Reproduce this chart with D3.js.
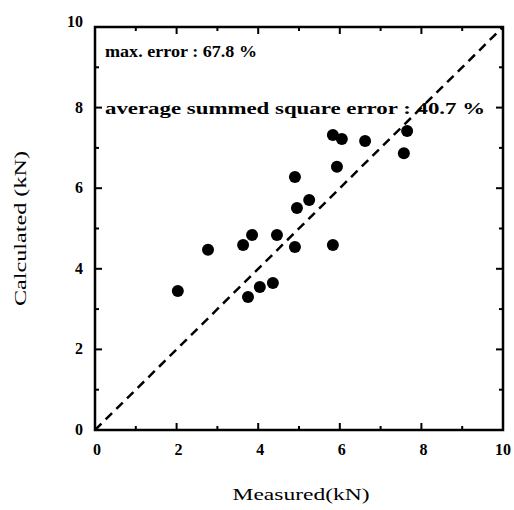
<!DOCTYPE html>
<html>
<head>
<meta charset="utf-8">
<script src="https://cdn.jsdelivr.net/npm/d3@7"></script>
<style>
  body { margin: 0; background: #fff; }
  svg text { font-family: 'Liberation Serif', 'DejaVu Serif', serif; fill: #000; }
</style>
</head>
<body>
<svg class="scatter" width="514" height="510"></svg>
<script>
// measured vs calculated load (kN)
const measured   = [2.03, 2.77, 3.63, 3.85, 3.75, 4.04, 4.36, 4.46, 4.90, 4.90, 4.95, 5.25, 5.83, 5.83, 6.05, 5.93, 6.62, 7.57, 7.65];
const calculated = [3.45, 4.47, 4.59, 4.84, 3.30, 3.55, 3.65, 4.84, 4.54, 6.28, 5.51, 5.71, 4.59, 7.32, 7.22, 6.53, 7.17, 6.87, 7.42];
const majorTicks = [0, 2, 4, 6, 8, 10];
const minorTicks = [1, 3, 5, 7, 9];
const notes = ['max. error : 67.8 %', 'average summed square error : 40.7 %'];

function drawScatter(){
  const margin = {top: 27, right: 11, bottom: 80, left: 95},
        width = 514 - margin.left - margin.right,
        height = 510 - margin.top - margin.bottom;

  const x = d3.scaleLinear().domain([0, 10]).range([0, width]);
  const y = d3.scaleLinear().domain([0, 10]).range([height, 0]);

  const svg = d3.select('svg.scatter').append('g')
                .attr('transform', `translate(${margin.left}, ${margin.top})`);

  // inward ticks on all four sides
  const tickLen = d => majorTicks.includes(d) ? 7 : 4;
  const allTicks = majorTicks.concat(minorTicks).filter(d => d > 0 && d < 10);

  svg.append('g').selectAll('line').data(allTicks).enter().append('line')
     .attr('x1', d => x(d)).attr('x2', d => x(d))
     .attr('y1', height).attr('y2', d => height - tickLen(d));
  svg.append('g').selectAll('line').data(allTicks).enter().append('line')
     .attr('x1', d => x(d)).attr('x2', d => x(d))
     .attr('y1', 0).attr('y2', d => tickLen(d));
  svg.append('g').selectAll('line').data(allTicks).enter().append('line')
     .attr('y1', d => y(d)).attr('y2', d => y(d))
     .attr('x1', 0).attr('x2', d => tickLen(d));
  svg.append('g').selectAll('line').data(allTicks).enter().append('line')
     .attr('y1', d => y(d)).attr('y2', d => y(d))
     .attr('x1', width).attr('x2', d => width - tickLen(d));
  svg.selectAll('line').attr('stroke', '#000').attr('stroke-width', 2);

  // frame
  svg.append('rect')
     .attr('width', width).attr('height', height)
     .attr('fill', 'none').attr('stroke', '#000').attr('stroke-width', 2.5);

  // tick labels
  svg.append('g').selectAll('text').data(majorTicks).enter().append('text')
     .attr('x', d => x(d) + (d === 10 ? 0 : 2))
     .attr('y', height + 25)
     .text(d => d)
     .style('font-size', '16px').style('font-weight', 'bold')
     .style('text-anchor', 'middle');

  svg.append('g').selectAll('text').data(majorTicks).enter().append('text')
     .attr('x', -12)
     .attr('y', d => y(d) + (d === 10 ? 0 : 5))
     .text(d => d)
     .style('font-size', '16px').style('font-weight', 'bold')
     .style('text-anchor', 'end');

  // 1:1 line
  svg.append('line')
     .attr('x1', x(0)).attr('y1', y(0))
     .attr('x2', x(10)).attr('y2', y(10))
     .attr('stroke', '#000').attr('stroke-width', 2.5)
     .attr('stroke-dasharray', '9,6');

  // points
  svg.append('g').selectAll('circle')
     .data(measured.map((m, i) => ({m: m, c: calculated[i]})))
     .enter().append('circle')
     .attr('cx', d => x(d.m))
     .attr('cy', d => y(d.c))
     .attr('r', 6)
     .attr('fill', '#000');

  // notes
  svg.append('text')
     .attr('x', 10).attr('y', 30)
     .attr('textLength', 152).attr('lengthAdjust', 'spacingAndGlyphs')
     .text(notes[0])
     .style('font-size', '17px').style('font-weight', 'bold');
  svg.append('text')
     .attr('x', 10).attr('y', 87)
     .attr('textLength', 380).attr('lengthAdjust', 'spacingAndGlyphs')
     .text(notes[1])
     .style('font-size', '17px').style('font-weight', 'bold');

  // axis titles
  svg.append('text')
     .attr('transform', `translate(${-margin.left + 26}, ${height / 2}) rotate(-90)`)
     .attr('textLength', 155).attr('lengthAdjust', 'spacingAndGlyphs')
     .text('Calculated (kN)')
     .style('font-size', '17px')
     .style('text-anchor', 'middle');

  svg.append('text')
     .attr('x', width / 2 + 2)
     .attr('y', height + 70)
     .attr('textLength', 137).attr('lengthAdjust', 'spacingAndGlyphs')
     .text('Measured(kN)')
     .style('font-size', '17px')
     .style('text-anchor', 'middle');
}

drawScatter();
</script>
</body>
</html>
